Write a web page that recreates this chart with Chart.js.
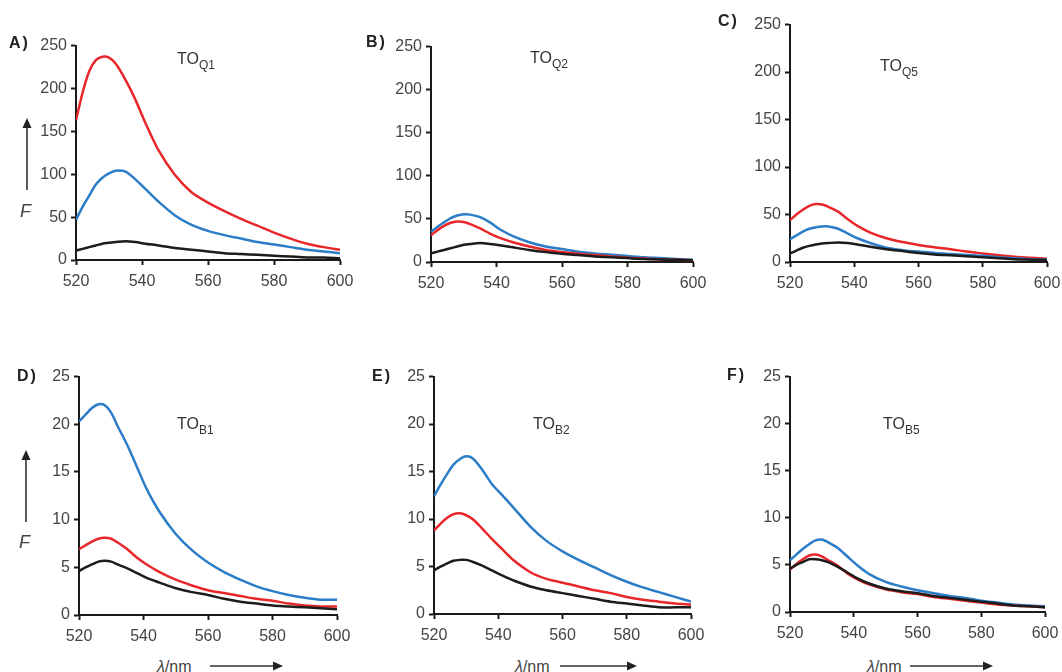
<!DOCTYPE html>
<html>
<head>
<meta charset="utf-8">
<script src="https://cdn.jsdelivr.net/npm/chart.js@4.4.0/dist/chart.umd.min.js"></script>
<style>
  body { margin: 0; background: #fff; }
  #page { position: relative; width: 1062px; height: 672px; overflow: hidden; font-family: "Liberation Sans", Arial, sans-serif; }
  canvas { position: absolute; }
  .lbl { position: absolute; font-size: 16px; font-weight: bold; color: #222; line-height: 16px; letter-spacing: 2px; }
  .ttl { position: absolute; font-size: 16px; color: #333; line-height: 16px; white-space: nowrap; }
  .ttl sub { font-size: 12px; vertical-align: -5px; }
  .fy { position: absolute; font-size: 18px; font-style: italic; color: #444; line-height: 18px; }
  .xt { position: absolute; font-size: 16px; color: #444; line-height: 16px; }
</style>
</head>
<body>
<div id="page">
  <svg id="arrows" width="1062" height="672" style="position:absolute;left:0;top:0"></svg>
</div>
<script>
// longueurs d'onde (nm)
const wavelengths = [520, 522, 524, 526, 528, 530, 532, 535, 538, 541, 545, 550, 555, 560, 565, 570, 575, 580, 585, 590, 595, 600];

// A) TO Q1
const aRed   = [163, 195, 220, 233, 237, 236, 229, 210, 187, 160, 128, 99, 79, 67, 57, 48, 40, 32, 25, 19, 15, 12];
const aBlue  = [47, 62, 75, 88, 96, 101, 104, 103, 94, 83, 68, 52, 41, 34, 29, 25, 21, 18, 15, 12, 10, 8];
const aBlack = [11, 13, 15, 17, 19, 20, 21, 22, 21, 19, 17, 14, 12, 10, 8, 7, 6, 5, 4, 3, 3, 2];
// B) TO Q2
const bRed   = [31, 37, 42, 45.5, 47, 46.5, 44, 39, 33, 28, 23, 18, 14, 11.5, 9.5, 8, 6.5, 5, 4, 3, 2.5, 2];
const bBlue  = [35, 41, 46, 51, 54, 55.5, 55, 52, 46, 38, 30, 23, 18, 15, 12, 10, 8.5, 7, 5.5, 4.5, 3.5, 2.5];
const bBlack = [10, 12, 14, 16, 18, 20, 21, 22, 21, 19.5, 17, 14, 11.5, 9.5, 8, 6.5, 5.5, 4.5, 3.5, 3, 2.5, 2];
// C) TO Q5
const cRed   = [44, 50, 55, 59, 61, 60.5, 58, 53, 45, 38, 31, 25, 21, 18, 15.5, 13.5, 11, 9, 7, 5.5, 4.5, 3.5];
const cBlue  = [24, 28, 32, 35, 36.5, 37.5, 37.5, 35, 30, 25, 20, 15, 12.5, 11, 9.5, 8.5, 7.5, 6.5, 5, 4, 3, 2.5];
const cBlack = [9, 12, 15, 17, 18.5, 19.5, 20, 20.5, 20, 18.5, 16, 13.5, 11.5, 9.5, 8, 7, 6, 5, 4, 3, 2.5, 2];
// D) TO B1
const dRed   = [6.9, 7.3, 7.7, 8.0, 8.1, 8.0, 7.6, 6.9, 6.0, 5.3, 4.5, 3.7, 3.1, 2.6, 2.3, 2.0, 1.7, 1.5, 1.2, 1.0, 0.9, 0.9];
const dBlue  = [20.3, 21, 21.7, 22.1, 22, 21.2, 19.8, 17.8, 15.5, 13.2, 10.8, 8.5, 6.8, 5.5, 4.5, 3.7, 3.0, 2.5, 2.1, 1.8, 1.6, 1.6];
const dBlack = [4.6, 5.0, 5.3, 5.6, 5.7, 5.6, 5.3, 4.9, 4.4, 3.9, 3.4, 2.8, 2.4, 2.1, 1.7, 1.4, 1.2, 1.0, 0.9, 0.8, 0.7, 0.6];
// E) TO B2
const eRed   = [8.8, 9.5, 10.1, 10.5, 10.6, 10.4, 10.0, 9.0, 7.9, 6.9, 5.6, 4.4, 3.7, 3.3, 2.9, 2.5, 2.2, 1.8, 1.5, 1.3, 1.1, 1.0];
const eBlue  = [12.4, 13.6, 14.7, 15.7, 16.3, 16.6, 16.4, 15.2, 13.7, 12.6, 11.1, 9.2, 7.7, 6.6, 5.7, 4.9, 4.1, 3.4, 2.8, 2.3, 1.8, 1.3];
const eBlack = [4.6, 5.0, 5.3, 5.6, 5.7, 5.7, 5.5, 5.1, 4.6, 4.1, 3.5, 2.9, 2.5, 2.2, 1.9, 1.6, 1.3, 1.1, 0.9, 0.7, 0.7, 0.7];
// F) TO B5
const fRed   = [4.5, 5.1, 5.6, 6.0, 6.1, 5.9, 5.5, 4.9, 4.1, 3.5, 2.9, 2.4, 2.1, 1.9, 1.6, 1.4, 1.2, 1.0, 0.8, 0.7, 0.6, 0.5];
const fBlue  = [5.5, 6.1, 6.7, 7.2, 7.6, 7.7, 7.4, 6.8, 5.9, 5.0, 4.0, 3.2, 2.7, 2.3, 2.0, 1.7, 1.5, 1.2, 1.0, 0.8, 0.7, 0.6];
const fBlack = [4.6, 5.0, 5.3, 5.6, 5.6, 5.5, 5.3, 4.8, 4.2, 3.6, 3.0, 2.5, 2.2, 2.0, 1.7, 1.5, 1.3, 1.1, 0.9, 0.7, 0.6, 0.5];

const xTicks = [520, 540, 560, 580, 600];
const yMaxTop = 250, yStepTop = 50;
const yMaxBottom = 25, yStepBottom = 5;

// panneaux : lettre, indice du titre, séries, échelle, zone de tracé (px)
const panneaux = [
  { lettre: 'A)', sub: 'Q1', series: [aBlack, aBlue, aRed], yMax: yMaxTop, step: yStepTop, x0: 76, x1: 340, y0: 44, y1: 260, lx: 9, ly: 43, tx: 177, ty: 59 },
  { lettre: 'B)', sub: 'Q2', series: [bBlack, bRed, bBlue], yMax: yMaxTop, step: yStepTop, x0: 431, x1: 693, y0: 45, y1: 262, lx: 366, ly: 42, tx: 530, ty: 58 },
  { lettre: 'C)', sub: 'Q5', series: [cBlack, cBlue, cRed], yMax: yMaxTop, step: yStepTop, x0: 790, x1: 1047, y0: 23, y1: 262, lx: 718, ly: 21, tx: 880, ty: 66 },
  { lettre: 'D)', sub: 'B1', series: [dBlack, dRed, dBlue], yMax: yMaxBottom, step: yStepBottom, x0: 79, x1: 337, y0: 375, y1: 615, lx: 17, ly: 376, tx: 177, ty: 424 },
  { lettre: 'E)', sub: 'B2', series: [eBlack, eRed, eBlue], yMax: yMaxBottom, step: yStepBottom, x0: 434, x1: 691, y0: 375, y1: 614, lx: 372, ly: 376, tx: 533, ty: 424 },
  { lettre: 'F)', sub: 'B5', series: [fBlack, fRed, fBlue], yMax: yMaxBottom, step: yStepBottom, x0: 790, x1: 1045, y0: 375, y1: 612, lx: 727, ly: 375, tx: 883, ty: 424 }
];

const couleurs = { black: '#1c1c1c', red: '#e8272b', blue: '#2b7dc7' };

function couleurSerie(serie) {
  if (aRed === serie || bRed === serie || cRed === serie || dRed === serie || eRed === serie || fRed === serie) return couleurs.red;
  if (aBlue === serie || bBlue === serie || cBlue === serie || dBlue === serie || eBlue === serie || fBlue === serie) return couleurs.blue;
  return couleurs.black;
}

const page = document.getElementById('page');
const PADL = 60, PADT = 12, PADR = 22, PADB = 36;

function ajouterTexte(cls, html, left, top) {
  const d = document.createElement('div');
  d.className = cls;
  d.innerHTML = html;
  d.style.left = left + 'px';
  d.style.top = top + 'px';
  page.appendChild(d);
}

panneaux.forEach(function (p) {
  const cv = document.createElement('canvas');
  const w = (p.x1 - p.x0) + PADL + PADR;
  const h = (p.y1 - p.y0) + PADT + PADB;
  cv.width = w;
  cv.height = h;
  cv.style.left = (p.x0 - PADL) + 'px';
  cv.style.top = (p.y0 - PADT) + 'px';
  page.appendChild(cv);

  new Chart(cv, {
    type: 'line',
    data: {
      labels: wavelengths,
      datasets: p.series.map(function (s) {
        return {
          data: s.map(function (v, i) { return { x: wavelengths[i], y: v }; }),
          borderColor: couleurSerie(s),
          borderWidth: 2.5,
          pointRadius: 0,
          tension: 0.3,
          fill: false
        };
      })
    },
    options: {
      responsive: false,
      animation: false,
      devicePixelRatio: 1,
      layout: { padding: { top: PADT, right: PADR, left: 0, bottom: 0 } },
      plugins: { legend: { display: false }, tooltip: { enabled: false } },
      scales: {
        x: {
          type: 'linear',
          min: 520,
          max: 600,
          afterFit: function (scale) { scale.height = PADB; },
          afterBuildTicks: function (scale) { scale.ticks = xTicks.map(function (v) { return { value: v }; }); },
          border: { display: true, color: '#1a1a1a', width: 2 },
          grid: { display: true, drawOnChartArea: false, drawTicks: true, tickLength: 5, tickColor: '#1a1a1a', tickWidth: 2 },
          ticks: { color: '#444', padding: 7, maxRotation: 0, font: { family: 'Liberation Sans, Arial', size: 16 } }
        },
        y: {
          min: 0,
          max: p.yMax,
          afterFit: function (scale) { scale.width = PADL; },
          border: { display: true, color: '#1a1a1a', width: 2 },
          grid: { display: true, drawOnChartArea: false, drawTicks: true, tickLength: 5, tickColor: '#1a1a1a', tickWidth: 2 },
          ticks: { stepSize: p.step, color: '#444', padding: 4, font: { family: 'Liberation Sans, Arial', size: 16 } }
        }
      }
    }
  });

  ajouterTexte('lbl', p.lettre, p.lx, p.ly - 8);
  ajouterTexte('ttl', 'TO<sub>' + p.sub + '</sub>', p.tx, p.ty - 8);
});

// axe F (ordonnée) et λ/nm (abscisse)
ajouterTexte('fy', 'F', 20, 202);
ajouterTexte('fy', 'F', 19, 533);
[157, 515, 867].forEach(function (x) {
  ajouterTexte('xt', '<i>λ</i>/nm', x, 659);
});

// flèches
const svg = document.getElementById('arrows');
function fleche(x1, y1, x2, y2) {
  const ns = 'http://www.w3.org/2000/svg';
  const l = document.createElementNS(ns, 'line');
  const horiz = y1 === y2;
  l.setAttribute('x1', x1); l.setAttribute('y1', y1);
  l.setAttribute('x2', horiz ? x2 - 8 : x2); l.setAttribute('y2', horiz ? y2 : y2 + 8);
  l.setAttribute('stroke', '#333'); l.setAttribute('stroke-width', '1.6');
  svg.appendChild(l);
  const t = document.createElementNS(ns, 'polygon');
  const pts = horiz
    ? [[x2, y2], [x2 - 10, y2 - 4.5], [x2 - 10, y2 + 4.5]]
    : [[x2, y2], [x2 - 4.5, y2 + 10], [x2 + 4.5, y2 + 10]];
  t.setAttribute('points', pts.map(function (p) { return p.join(','); }).join(' '));
  t.setAttribute('fill', '#222');
  svg.appendChild(t);
}
fleche(27, 190, 27, 118);
fleche(26, 522, 26, 450);
fleche(210, 666, 283, 666);
fleche(560, 666, 637, 666);
fleche(910, 666, 993, 666);
</script>
</body>
</html>
